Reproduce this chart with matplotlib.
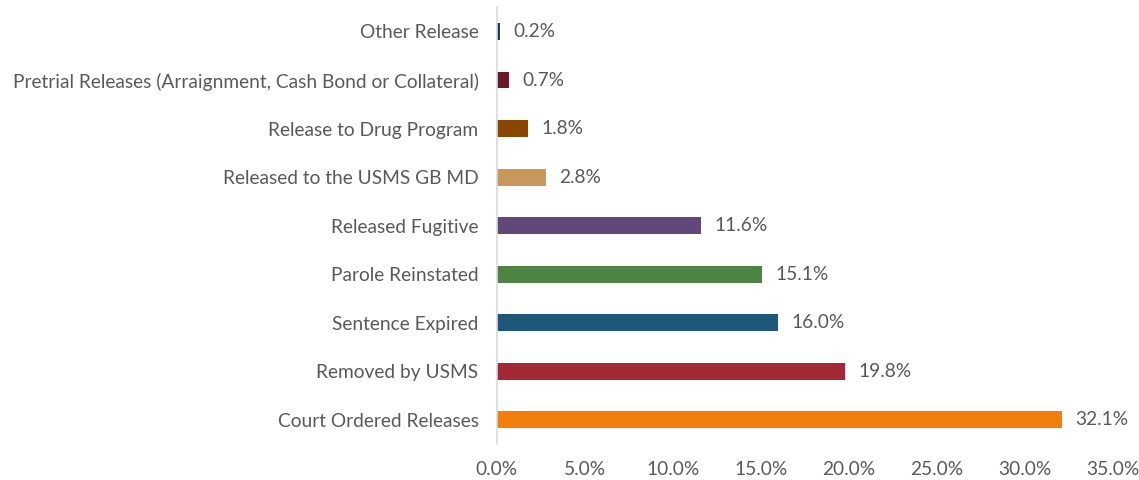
import matplotlib
matplotlib.use("Agg")
import matplotlib.pyplot as plt
from matplotlib.ticker import FuncFormatter

categories = [
    "Court Ordered Releases",
    "Removed by USMS",
    "Sentence Expired",
    "Parole Reinstated",
    "Released Fugitive",
    "Released to the USMS GB MD",
    "Release to Drug Program",
    "Pretrial Releases (Arraignment, Cash Bond or Collateral)",
    "Other Release",
]
values = [32.1, 19.8, 16.0, 15.1, 11.6, 2.8, 1.8, 0.7, 0.2]
colors = ["#F07F0C", "#A02935", "#1E577C", "#4C8541", "#5F4979",
          "#C8975B", "#8C4603", "#6A1A25", "#1E3D5B"]
xticks = [0, 5, 10, 15, 20, 25, 30, 35]

plt.rcParams['font.family'] = ['Lato', 'DejaVu Sans']
FS = 13.8
fig = plt.figure(figsize=(11.39, 4.80), dpi=100)
ax = fig.add_axes([0.436, 0.075, 0.541, 0.91])

y = range(len(categories))
ax.barh(y, values, height=0.35, color=colors)
for yi, v in zip(y, values):
    ax.text(v + 0.75, yi, f"{v:.1f}%", va="center", ha="left", fontsize=FS, color="#595959")

ax.set_yticks(list(y))
ax.set_yticklabels(categories, fontsize=FS, color="#595959")
ax.set_xticks(xticks)
ax.xaxis.set_major_formatter(FuncFormatter(lambda v, p: f"{v:.1f}%"))
ax.tick_params(axis="x", labelsize=FS, labelcolor="#595959", length=0, pad=12)
ax.tick_params(axis="y", length=0, pad=13)
ax.set_xlim(0, 35)
ax.set_ylim(-0.5, len(categories) - 0.5)
for s in ["top", "right", "bottom"]:
    ax.spines[s].set_visible(False)
ax.spines["left"].set_color("#D9D9D9")
ax.spines["left"].set_linewidth(1.2)

fig.savefig("out.png", dpi=100)
